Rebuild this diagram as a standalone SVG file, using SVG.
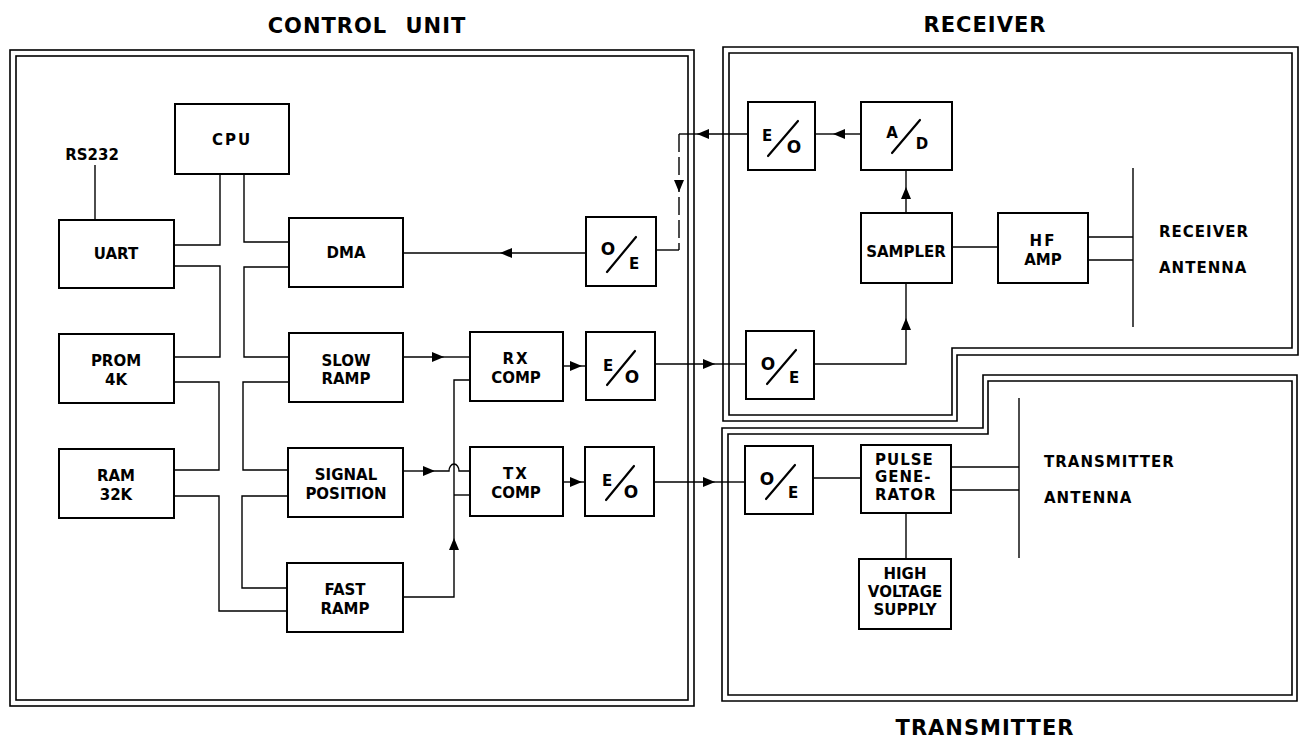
<svg xmlns="http://www.w3.org/2000/svg" width="1303" height="738" viewBox="0 0 1303 738">
<style>
  .box { fill: #fff; stroke: #000; stroke-width: 2; }
  .frame { fill: none; stroke: #000; stroke-width: 1.6; }
  .t { font-family: "DejaVu Sans", "Liberation Sans", sans-serif; font-weight: bold; font-size: 15px; fill: #000; text-anchor: middle; }
  .ts { font-family: "DejaVu Sans", "Liberation Sans", sans-serif; font-weight: bold; font-size: 15px; fill: #000; letter-spacing: 1px; }
  .frac { font-family: "DejaVu Sans", "Liberation Sans", sans-serif; font-weight: bold; font-size: 17px; fill: #000; text-anchor: middle; }
  .fracs { font-family: "DejaVu Sans", "Liberation Sans", sans-serif; font-weight: bold; font-size: 15px; fill: #000; text-anchor: middle; }
  .title { font-family: "DejaVu Sans", "Liberation Sans", sans-serif; font-weight: bold; font-size: 21px; fill: #000; text-anchor: middle; letter-spacing: 1px; }
  .diag { stroke: #000; stroke-width: 2.2; stroke-linecap: round; }
  .c { fill: none; stroke: #000; stroke-width: 1.4; }
  .ca { fill: none; stroke: #000; stroke-width: 1.4; marker-end: url(#arr); }
  .dash { stroke-dasharray: 18 5; }
</style>
<defs>
  <marker id="arr" markerUnits="userSpaceOnUse" viewBox="0 0 12 10" refX="12" refY="5" markerWidth="12" markerHeight="10" orient="auto">
    <path d="M0,0 L12,5 L0,10 Z" fill="#000"/>
  </marker>
</defs>

<!-- Frames and titles -->
<g id="control-unit-frame">
  <rect class="frame" x="10" y="50" width="684" height="656"/>
  <rect class="frame" x="16" y="56" width="672" height="644"/>
  <text class="title" x="367" y="33" word-spacing="10">CONTROL UNIT</text>
</g>
<g id="receiver-frame">
  <path class="frame" d="M723,47 H1298 V355 H957 V421 H723 Z"/>
  <path class="frame" d="M729,53 H1292 V348 H952 V415 H729 Z"/>
  <text class="title" x="985" y="32" font-size="22">RECEIVER</text>
</g>
<g id="transmitter-frame">
  <path class="frame" d="M722,428 H983 V375 H1297 V701 H722 Z"/>
  <path class="frame" d="M728,434 H988 V381 H1292 V695 H728 Z"/>
  <text class="title" x="985" y="735" font-size="22">TRANSMITTER</text>
</g>

<!-- Connectors -->
<g id="connectors">
  <!-- bus -->
  <path class="c" d="M220,174 V245 H174"/>
  <path class="c" d="M244,174 V242 H289"/>
  <path class="c" d="M174,266 H220 V357 H174"/>
  <path class="c" d="M289,267 H244 V357 H289"/>
  <path class="c" d="M174,382 H219 V470 H174"/>
  <path class="c" d="M289,382 H243 V470 H289"/>
  <path class="c" d="M174,496 H219 V611 H287"/>
  <path class="c" d="M288,496 H242 V588 H287"/>
  <!-- RS232 -->
  <path class="c" d="M95,165 V220"/>
  <!-- O/E to DMA -->
  <path class="ca" d="M586,253 H500"/>
  <path class="c" d="M500,253 H403"/>
  <!-- Receiver E/O to control O/E -->
  <path class="ca" d="M748,134 H697"/>
  <path class="c" d="M697,134 H679"/>
  <path class="ca dash" d="M679,134 V192"/>
  <path class="c dash" d="M679,197 V250"/>
  <path class="c" d="M679,250 H656"/>
  <!-- A/D to E/O -->
  <path class="ca" d="M861,134 H833"/>
  <path class="c" d="M833,134 H815"/>
  <!-- Sampler to A/D -->
  <path class="ca" d="M906,213 V187"/>
  <path class="c" d="M906,187 V170"/>
  <!-- Sampler to HF amp -->
  <path class="c" d="M952,247 H998"/>
  <!-- HF amp to receiver antenna -->
  <path class="c" d="M1088,237 H1133"/>
  <path class="c" d="M1088,260 H1133"/>
  <path class="c" d="M1133,168 V327"/>
  <!-- Receiver O/E to sampler -->
  <path class="ca" d="M814,364 H906 V318"/>
  <path class="c" d="M906,318 V283"/>
  <!-- Control E/O to receiver O/E -->
  <path class="ca" d="M655,364 H715"/>
  <path class="c" d="M715,364 H746"/>
  <!-- Control E/O to transmitter O/E -->
  <path class="ca" d="M654,482 H715"/>
  <path class="c" d="M715,482 H745"/>
  <!-- Slow ramp to RX comp -->
  <path class="ca" d="M403,357 H444"/>
  <path class="c" d="M444,357 H470"/>
  <!-- RX comp to E/O -->
  <path class="ca" d="M563,366 H582"/>
  <path class="c" d="M582,366 H586"/>
  <!-- TX comp to E/O -->
  <path class="ca" d="M563,482 H582"/>
  <path class="c" d="M582,482 H585"/>
  <!-- Signal position to TX comp with hop -->
  <path class="ca" d="M403,471 H435"/>
  <path class="c" d="M435,471 H449 A5,7 0 0 1 459,471 H470"/>
  <!-- Fast ramp to RX/TX comp -->
  <path class="ca" d="M403,597 H454 V538"/>
  <path class="c" d="M454,538 V380 H470"/>
  <path class="c" d="M454,495 H470"/>
  <!-- Transmitter -->
  <path class="c" d="M813,478 H861"/>
  <path class="c" d="M951,467 H1019"/>
  <path class="c" d="M951,490 H1019"/>
  <path class="c" d="M1019,398 V558"/>
  <path class="c" d="M906,513 V559"/>
</g>

<!-- Control unit nodes -->
<g id="cpu">
  <rect class="box" x="175" y="104" width="114" height="70"/>
  <text class="t" x="232" y="145" letter-spacing="2">CPU</text>
</g>
<g id="rs232">
  <text class="t" x="92" y="160">RS232</text>
</g>
<g id="uart">
  <rect class="box" x="59" y="220" width="115" height="68"/>
  <text class="t" x="116" y="259">UART</text>
</g>
<g id="dma">
  <rect class="box" x="289" y="218" width="114" height="69"/>
  <text class="t" x="346" y="258">DMA</text>
</g>
<g id="prom">
  <rect class="box" x="59" y="334" width="115" height="69"/>
  <text class="t" x="116" y="366">PROM</text>
  <text class="t" x="116" y="385">4K</text>
</g>
<g id="slow-ramp">
  <rect class="box" x="289" y="333" width="114" height="69"/>
  <text class="t" x="346" y="366">SLOW</text>
  <text class="t" x="346" y="384">RAMP</text>
</g>
<g id="ram">
  <rect class="box" x="59" y="449" width="115" height="69"/>
  <text class="t" x="116" y="481">RAM</text>
  <text class="t" x="116" y="500">32K</text>
</g>
<g id="signal-position">
  <rect class="box" x="288" y="448" width="115" height="69"/>
  <text class="t" x="346" y="480">SIGNAL</text>
  <text class="t" x="346" y="499">POSITION</text>
</g>
<g id="fast-ramp">
  <rect class="box" x="287" y="563" width="116" height="69"/>
  <text class="t" x="345" y="595">FAST</text>
  <text class="t" x="345" y="614">RAMP</text>
</g>
<g id="rx-comp">
  <rect class="box" x="470" y="332" width="93" height="69"/>
  <text class="t" x="516" y="364" letter-spacing="2">RX</text>
  <text class="t" x="516" y="383">COMP</text>
</g>
<g id="tx-comp">
  <rect class="box" x="470" y="447" width="93" height="69"/>
  <text class="t" x="516" y="479" letter-spacing="2">TX</text>
  <text class="t" x="516" y="498">COMP</text>
</g>
<g id="oe-control">
  <rect class="box" x="586" y="217" width="70" height="69"/>
  <text class="frac" x="608" y="255">O</text>
  <line class="diag" x1="607" y1="272" x2="636" y2="237"/>
  <text class="fracs" x="634" y="269">E</text>
</g>
<g id="eo-rx">
  <rect class="box" x="586" y="332" width="69" height="68"/>
  <text class="fracs" x="608" y="371">E</text>
  <line class="diag" x1="607" y1="385" x2="635" y2="351"/>
  <text class="frac" x="632" y="383">O</text>
</g>
<g id="eo-tx">
  <rect class="box" x="585" y="447" width="69" height="69"/>
  <text class="fracs" x="607" y="486">E</text>
  <line class="diag" x1="606" y1="500" x2="634" y2="466"/>
  <text class="frac" x="631" y="498">O</text>
</g>

<!-- Receiver nodes -->
<g id="eo-receiver">
  <rect class="box" x="748" y="102" width="67" height="68"/>
  <text class="fracs" x="767" y="141">E</text>
  <line class="diag" x1="768" y1="156" x2="798" y2="121"/>
  <text class="frac" x="794" y="153">O</text>
</g>
<g id="ad">
  <rect class="box" x="861" y="102" width="91" height="68"/>
  <text class="fracs" x="892" y="138">A</text>
  <line class="diag" x1="892" y1="153" x2="920" y2="120"/>
  <text class="fracs" x="922" y="149">D</text>
</g>
<g id="sampler">
  <rect class="box" x="861" y="213" width="91" height="70"/>
  <text class="t" x="906" y="257">SAMPLER</text>
</g>
<g id="hf-amp">
  <rect class="box" x="998" y="213" width="90" height="70"/>
  <text class="t" x="1043" y="246" letter-spacing="2">HF</text>
  <text class="t" x="1043" y="265">AMP</text>
</g>
<g id="oe-receiver">
  <rect class="box" x="746" y="331" width="68" height="68"/>
  <text class="frac" x="768" y="370">O</text>
  <line class="diag" x1="767" y1="384" x2="796" y2="350"/>
  <text class="fracs" x="794" y="383">E</text>
</g>
<g id="receiver-antenna">
  <text class="ts" x="1159" y="237">RECEIVER</text>
  <text class="ts" x="1159" y="273">ANTENNA</text>
</g>

<!-- Transmitter nodes -->
<g id="oe-transmitter">
  <rect class="box" x="745" y="446" width="68" height="68"/>
  <text class="frac" x="767" y="485">O</text>
  <line class="diag" x1="766" y1="499" x2="795" y2="465"/>
  <text class="fracs" x="793" y="498">E</text>
</g>
<g id="pulse-generator">
  <rect class="box" x="861" y="445" width="90" height="68"/>
  <text class="ts" x="875" y="465" letter-spacing="0.5">PULSE</text>
  <text class="ts" x="875" y="482" letter-spacing="0.5">GENE-</text>
  <text class="ts" x="875" y="500" letter-spacing="0.5">RATOR</text>
</g>
<g id="high-voltage-supply">
  <rect class="box" x="859" y="559" width="92" height="70"/>
  <text class="t" x="905" y="579">HIGH</text>
  <text class="t" x="905" y="597">VOLTAGE</text>
  <text class="t" x="905" y="615">SUPPLY</text>
</g>
<g id="transmitter-antenna">
  <text class="ts" x="1044" y="467">TRANSMITTER</text>
  <text class="ts" x="1044" y="503">ANTENNA</text>
</g>
</svg>
